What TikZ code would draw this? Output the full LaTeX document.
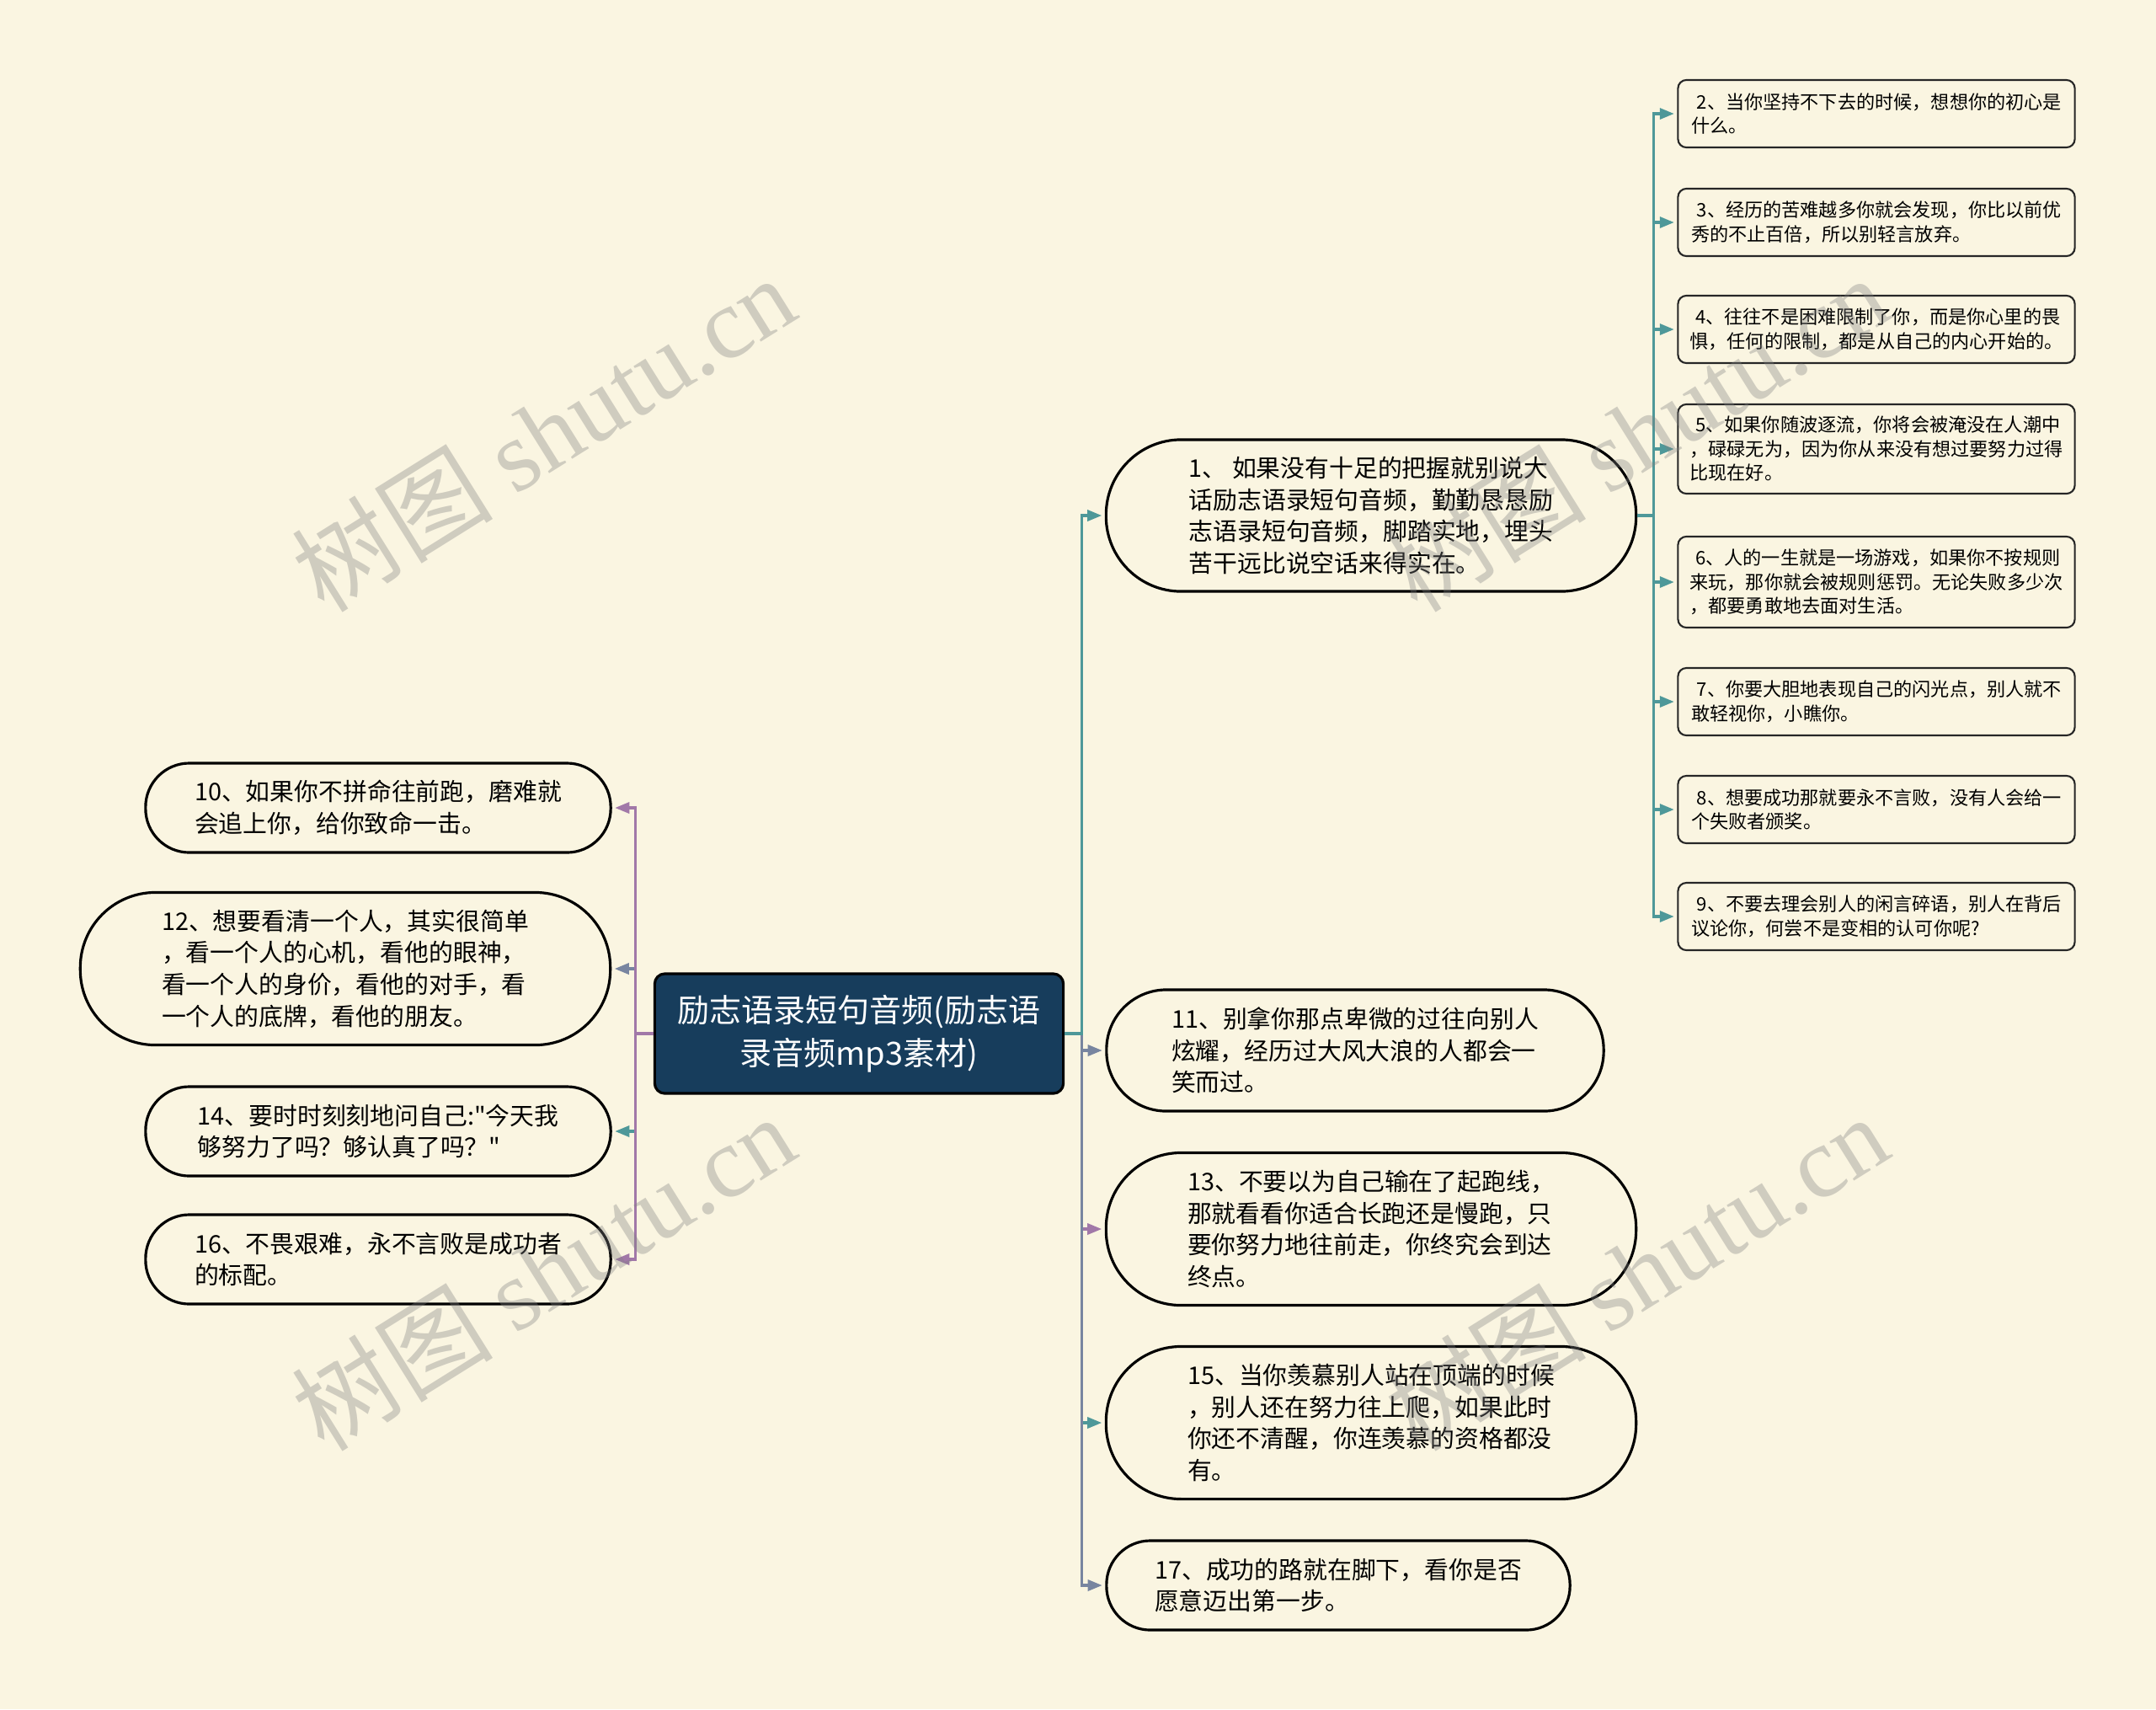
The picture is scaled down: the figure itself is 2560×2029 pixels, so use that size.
\documentclass[tikz,border=0pt]{standalone}
\usepackage{fontspec}
\setmainfont{Noto Sans CJK SC}[Ligatures=TeXOff]
\newfontfamily\wmfont{Liberation Serif}
\usetikzlibrary{arrows.meta}

\definecolor{bgcream}{RGB}{250,245,225}
\definecolor{rootblue}{RGB}{23,61,92}
\definecolor{lineteal}{RGB}{78,152,153}
\definecolor{linegrey}{RGB}{120,133,160}
\definecolor{linepurple}{RGB}{161,120,168}

\tikzset{
  rootbox/.style={draw=black,line width=0.9pt,fill=rootblue,text=white,rounded corners=0.12cm,
    minimum width=4.85cm,minimum height=1.42cm,align=center,
    font=\fontsize{10.8pt}{14.4pt}\selectfont},
  pillbox/.style={draw=black,line width=0.9pt,fill=bgcream,align=left,inner sep=0pt,
    font=\fontsize{8.2pt}{10.7pt}\selectfont},
  notebox/.style={draw=black!85,line width=0.6pt,fill=bgcream,rounded corners=0.1cm,
    minimum width=4.71cm,align=left,inner sep=0pt,
    font=\fontsize{6.3pt}{8.1pt}\selectfont},
  conn/.style={line width=0.9pt,-{Triangle[length=0.17cm,width=0.13cm]},shorten >=1pt},
  wmark/.style={rotate=32,text=black!50,text opacity=0.35,font=\fontsize{34pt}{34pt}\selectfont}
}

\begin{document}
\begin{tikzpicture}[x=0.01cm,y=-0.01cm]
%\draw[step=100,gray,very thin] (0,0) grid (2560,2029); %background grid
\fill[bgcream] (0,0) rectangle (2560,2029);
\useasboundingbox (0,0) rectangle (2560,2029);

\node[rootbox] (root) at (1020,1227) {励志语录短句音频(励志语\\录音频mp3素材)};

% right branch
\node[pillbox,minimum width=6.29cm,minimum height=1.80cm,rounded corners=0.89cm] (b1) at (1628,612)
  {1、 如果没有十足的把握就别说大\\话励志语录短句音频，勤勤恳恳励\\志语录短句音频，脚踏实地，埋头\\苦干远比说空话来得实在。};
\node[pillbox,minimum width=5.90cm,minimum height=1.44cm,rounded corners=0.71cm] (b11) at (1609,1247)
  {11、别拿你那点卑微的过往向别人\\炫耀，经历过大风大浪的人都会一\\笑而过。};
\node[pillbox,minimum width=6.29cm,minimum height=1.81cm,rounded corners=0.89cm] (b13) at (1628,1459)
  {13、不要以为自己输在了起跑线，\\那就看看你适合长跑还是慢跑，只\\要你努力地往前走，你终究会到达\\终点。};
\node[pillbox,minimum width=6.29cm,minimum height=1.81cm,rounded corners=0.89cm] (b15) at (1628,1689)
  {15、当你羡慕别人站在顶端的时候\\，别人还在努力往上爬，如果此时\\你还不清醒，你连羡慕的资格都没\\有。};
\node[pillbox,minimum width=5.50cm,minimum height=1.06cm,rounded corners=0.52cm] (b17) at (1589,1882)
  {17、成功的路就在脚下，看你是否\\愿意迈出第一步。};

% left branch
\node[pillbox,minimum width=5.52cm,minimum height=1.06cm,rounded corners=0.52cm] (b10) at (449,959)
  {10、如果你不拼命往前跑，磨难就\\会追上你，给你致命一击。};
\node[pillbox,minimum width=6.29cm,minimum height=1.81cm,rounded corners=0.89cm] (b12) at (410,1150)
  {12、想要看清一个人，其实很简单\\，看一个人的心机，看他的眼神，\\看一个人的身价，看他的对手，看\\一个人的底牌，看他的朋友。};
\node[pillbox,minimum width=5.52cm,minimum height=1.06cm,rounded corners=0.52cm] (b14) at (449,1343)
  {14、要时时刻刻地问自己:"今天我\\够努力了吗？够认真了吗？"};
\node[pillbox,minimum width=5.52cm,minimum height=1.06cm,rounded corners=0.52cm] (b16) at (449,1495)
  {16、不畏艰难，永不言败是成功者\\的标配。};

% notes of 1
\node[notebox,minimum height=0.80cm] (n2) at (2228,135)
  {\hspace*{0.3em}2、当你坚持不下去的时候，想想你的初心是\\什么。};
\node[notebox,minimum height=0.80cm] (n3) at (2228,264)
  {\hspace*{0.3em}3、经历的苦难越多你就会发现，你比以前优\\秀的不止百倍，所以别轻言放弃。};
\node[notebox,minimum height=0.80cm] (n4) at (2228,391)
  {\hspace*{0.3em}4、往往不是困难限制了你，而是你心里的畏\\惧，任何的限制，都是从自己的内心开始的。};
\node[notebox,minimum height=1.06cm] (n5) at (2228,533)
  {\hspace*{0.3em}5、如果你随波逐流，你将会被淹没在人潮中\\，碌碌无为，因为你从来没有想过要努力过得\\比现在好。};
\node[notebox,minimum height=1.08cm] (n6) at (2228,691)
  {\hspace*{0.3em}6、人的一生就是一场游戏，如果你不按规则\\来玩，那你就会被规则惩罚。无论失败多少次\\，都要勇敢地去面对生活。};
\node[notebox,minimum height=0.80cm] (n7) at (2228,833)
  {\hspace*{0.3em}7、你要大胆地表现自己的闪光点，别人就不\\敢轻视你，小瞧你。};
\node[notebox,minimum height=0.80cm] (n8) at (2228,961)
  {\hspace*{0.3em}8、想要成功那就要永不言败，没有人会给一\\个失败者颁奖。};
\node[notebox,minimum height=0.80cm] (n9) at (2228,1088)
  {\hspace*{0.3em}9、不要去理会别人的闲言碎语，别人在背后\\议论你，何尝不是变相的认可你呢?};

% connectors
\draw[conn,linegrey] (root.east) -- ++(20,0) |- (b11.west);
\draw[conn,linepurple] (root.east) -- ++(20,0) |- (b13.west);
\draw[conn,lineteal] (root.east) -- ++(20,0) |- (b15.west);
\draw[conn,linegrey] (root.east) -- ++(20,0) |- (b17.west);
\draw[conn,lineteal] (root.east) -- ++(20,0) |- (b1.west);

\draw[conn,linegrey] (root.west) -- ++(-21,0) |- (b12.east);
\draw[conn,lineteal] (root.west) -- ++(-21,0) |- (b14.east);
\draw[conn,linepurple] (root.west) -- ++(-21,0) |- (b10.east);
\draw[conn,linepurple] (root.west) -- ++(-21,0) |- (b16.east);

\foreach \n in {n2,n3,n4,n5,n6,n7,n8,n9}
  \draw[conn,lineteal] (b1.east) -- ++(19,0) |- (\n.west);

% watermarks
\node[wmark] (wm1) at (645,514) {树图 {\wmfont shutu.cn}};
\node[wmark] (wm2) at (645,1510) {树图 {\wmfont shutu.cn}};
\node[wmark] (wm3) at (1943,514) {树图 {\wmfont shutu.cn}};
\node[wmark] (wm4) at (1943,1510) {树图 {\wmfont shutu.cn}};

\end{tikzpicture}
\end{document}
